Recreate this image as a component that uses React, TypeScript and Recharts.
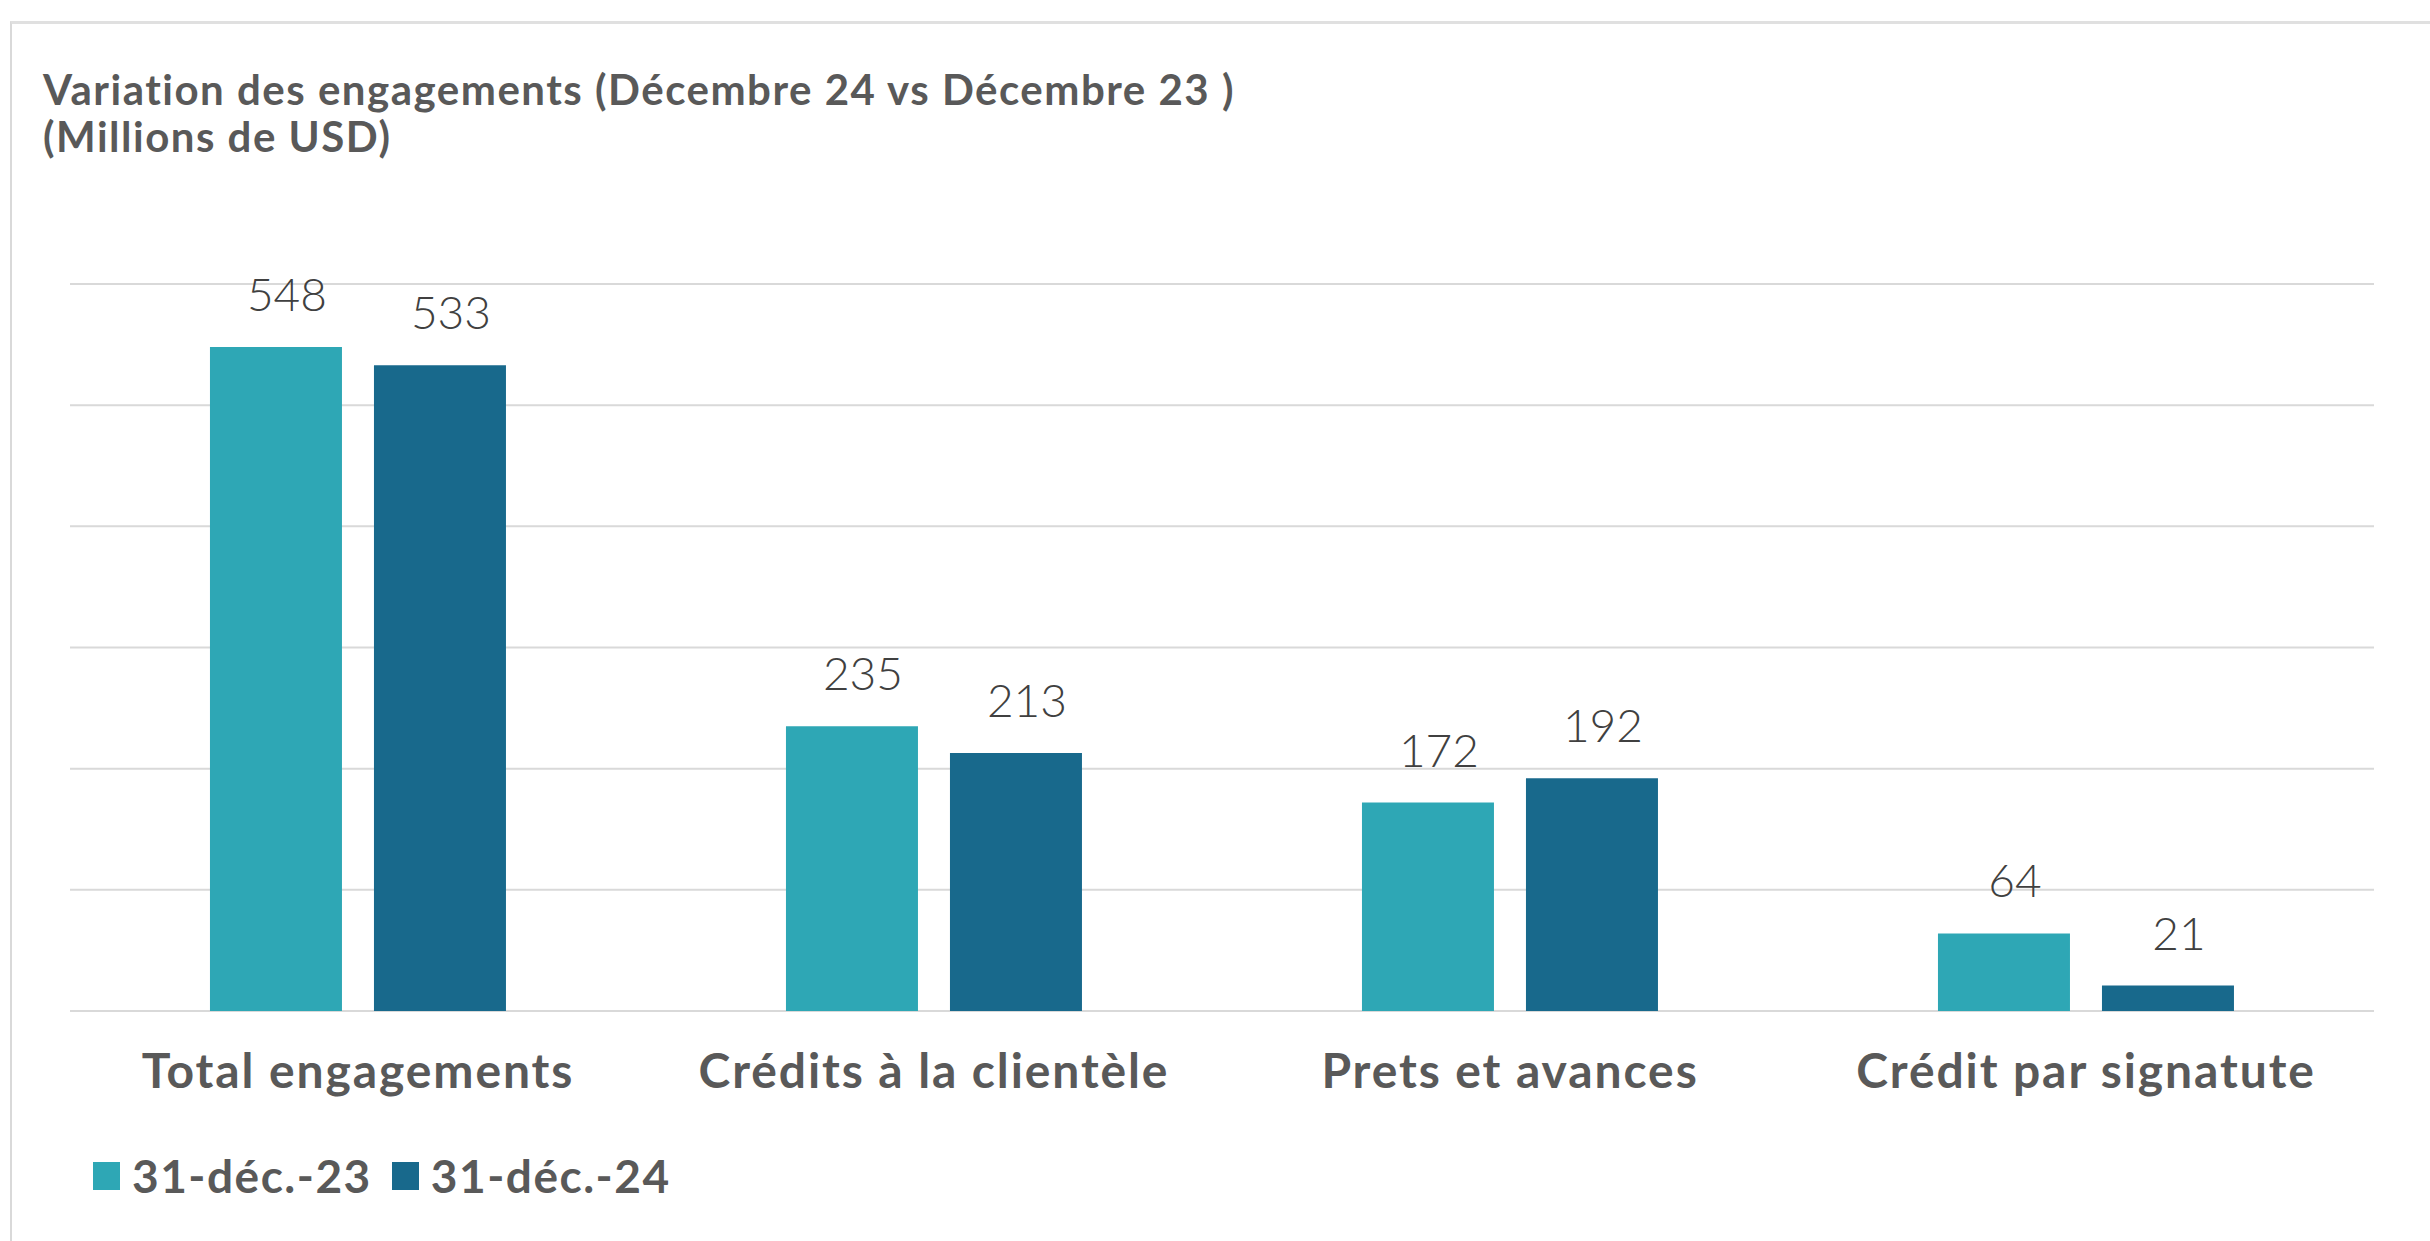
import { BarChart, Bar, XAxis, YAxis, CartesianGrid, LabelList } from "recharts";

// catégories et séries (millions de USD)
const categories = ["Total engagements", "Crédits à la clientèle", "Prets et avances", "Crédit par signatute"];
const dec23 = [548, 235, 172, 64];
const dec24 = [533, 213, 192, 21];
const yTicks = [0, 100, 200, 300, 400, 500, 600];

const seriesNames = ["31-déc.-23", "31-déc.-24"];
const colors = ["#2EA7B5", "#18698C"];

const FONT = "Lato, 'Noto Sans', sans-serif";

const data = categories.map((c, i) => ({ category: c, d23: dec23[i], d24: dec24[i] }));

function CategoryTick(props: any) {
  const { x, y, payload } = props;
  return (
    <text x={x} y={y + 77} textAnchor="middle" fill="#595959" fontFamily={FONT} fontWeight={700} fontSize={48} letterSpacing={1.9}>
      {payload.value}
    </text>
  );
}

function ValueLabel(props: any) {
  const { x, y, width, value } = props;
  return (
    <text x={x + width / 2 + 11} y={y - 36} textAnchor="middle" fill="#404040" fontFamily={FONT} fontWeight={300} fontSize={46}>
      {value}
    </text>
  );
}

export default function App() {
  return (
    <div style={{ position: "absolute", left: 0, top: 0, width: 2430, height: 1241, background: "#fff", overflow: "hidden" }}>
      {/* cadre gris */}
      <div style={{ position: "absolute", left: 10, top: 21, right: -10, bottom: -10, borderLeft: "2px solid #D9D9D9", borderTop: "3px solid #E0E0E0" }} />

      <div style={{ position: "absolute", left: 43, top: 66, fontFamily: FONT, fontWeight: 700, fontSize: 42, lineHeight: "47px", letterSpacing: 1.5, color: "#595959", whiteSpace: "nowrap" }}>
        Variation des engagements (Décembre 24 vs Décembre 23 )
        <br />
        (Millions de USD)
      </div>

      <div style={{ position: "absolute", left: 0, top: 0 }}>
        <BarChart
          width={2430}
          height={1241}
          data={data}
          margin={{ top: 284, left: 70, right: 56, bottom: 130 }}
          barCategoryGap="24.3%"
          barGap={32}
        >
          <CartesianGrid vertical={false} stroke="#D9D9D9" strokeWidth={2} />
          <YAxis hide domain={[0, 600]} ticks={yTicks} />
          <XAxis dataKey="category" axisLine={false} tickLine={false} tickSize={0} tickMargin={0} height={100} interval={0} tick={<CategoryTick />} />
          <Bar dataKey="d23" name={seriesNames[0]} fill={colors[0]} isAnimationActive={false}>
            <LabelList dataKey="d23" content={<ValueLabel />} />
          </Bar>
          <Bar dataKey="d24" name={seriesNames[1]} fill={colors[1]} isAnimationActive={false}>
            <LabelList dataKey="d24" content={<ValueLabel />} />
          </Bar>
        </BarChart>
      </div>

      {/* légende */}
      <div style={{ position: "absolute", left: 93, top: 1148, display: "flex", alignItems: "center", fontFamily: FONT, fontWeight: 700, fontSize: 46, letterSpacing: 1.5, color: "#595959" }}>
        {seriesNames.map((n, i) => (
          <div key={n} style={{ display: "flex", alignItems: "center", marginRight: 20 }}>
            <div style={{ width: 27, height: 28, background: colors[i], marginRight: 12 }} />
            <span>{n}</span>
          </div>
        ))}
      </div>
    </div>
  );
}
